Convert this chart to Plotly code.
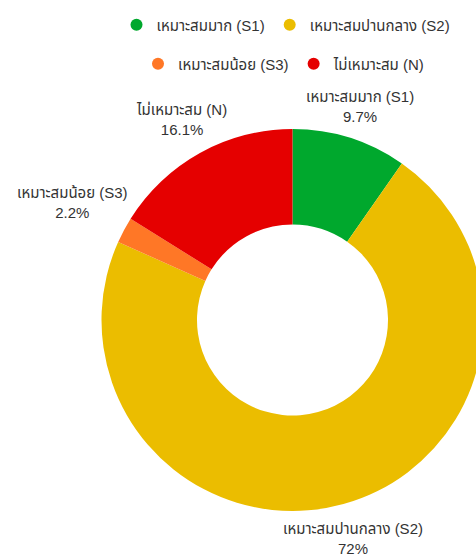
import math
import unicodedata
import plotly.graph_objects as go

categories = ["เหมาะสมมาก (S1)", "เหมาะสมปานกลาง (S2)", "เหมาะสมน้อย (S3)", "ไม่เหมาะสม (N)"]
values = [9.7, 72.0, 2.2, 16.1]
colors = ["#00A82D", "#EBBD00", "#FF7726", "#E50000"]

FONT = "Arial, Liberation Sans, Noto Sans Thai, sans-serif"
TEXT_COLOR = "#333333"
FS = 15

# figure is slightly wider than the 476px window so the right edge of the donut is clipped
W, H = 486, 554
CX, CY, R = 292.5, 320.0, 191.0   # donut centre / radius in pixels

fig = go.Figure()
fig.add_trace(go.Pie(
    labels=categories, values=values, sort=False, direction="clockwise", rotation=0,
    hole=0.5, marker=dict(colors=colors, line=dict(width=0)),
    textinfo="none", showlegend=False, automargin=False,
    domain=dict(x=[(CX - R) / W, (CX + R) / W], y=[(H - CY - R) / H, (H - CY + R) / H]),
    hoverinfo="label+percent",
))

# outside labels placed radially at each slice's mid-angle
def text_width(s):
    return sum(0 if unicodedata.category(ch) == "Mn" else 7.5 for ch in s)

total = sum(values)
cum = 0.0
for lab, v in zip(categories, values):
    mid = (cum + v / 2) / total * 2 * math.pi
    cum += v
    sx, cy_ = math.sin(mid), math.cos(mid)
    w, h = text_width(lab), 32
    d = R + 1 + 0.5 * (abs(sx) * w + abs(cy_) * h)
    px, py = CX + d * sx, CY - d * cy_
    pct = v / total * 100
    pct_txt = f"{pct:.1f}".rstrip("0").rstrip(".") + "%"
    fig.add_annotation(
        x=px / W, y=1 - py / H, xref="paper", yref="paper",
        text=f"{lab}<br>{pct_txt}", showarrow=False, xanchor="center", yanchor="middle",
        font=dict(family=FONT, size=FS, color=TEXT_COLOR),
    )

for i, (c, col) in enumerate(zip(categories, colors)):
    fig.add_trace(go.Scatter(
        x=[None], y=[None], mode="markers", name=c,
        marker=dict(symbol="circle", size=14, color=col),
        legend="legend" if i < 2 else "legend2",
    ))

legend_common = dict(orientation="h", xanchor="center", yanchor="middle",
                     font=dict(family=FONT, size=FS, color=TEXT_COLOR),
                     bgcolor="rgba(0,0,0,0)", itemsizing="constant", traceorder="normal")
fig.update_layout(
    width=W, height=H, margin=dict(l=0, r=0, t=0, b=0),
    paper_bgcolor="white", plot_bgcolor="white",
    xaxis=dict(visible=False), yaxis=dict(visible=False),
    legend=dict(x=286 / W, y=1 - 25 / H, **legend_common),
    legend2=dict(x=284 / W, y=1 - 64 / H, **legend_common),
)

fig.write_html("out.html", config={"displayModeBar": False},
               post_script="document.body.style.margin='0';document.body.style.overflow='hidden';")
